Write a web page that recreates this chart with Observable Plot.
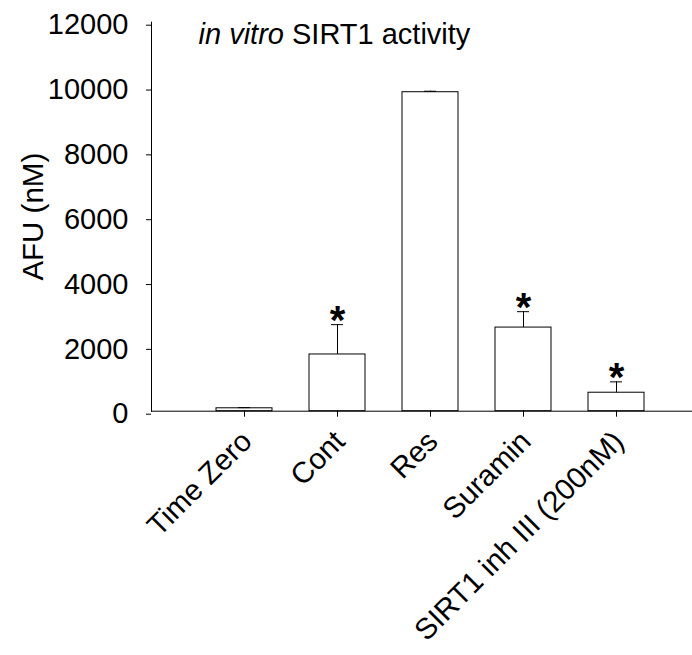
<!DOCTYPE html>
<html>
<head>
<meta charset="utf-8">
<script src="https://cdn.jsdelivr.net/npm/d3@7"></script>
<script src="https://cdn.jsdelivr.net/npm/@observablehq/plot@0.6"></script>
<style>
  html, body { margin: 0; padding: 0; background: #fff; }
  #chart svg { display: block; }
</style>
</head>
<body>
<div id="chart"></div>
<script>
const categories = ["Time Zero", "Cont", "Res", "Suramin", "SIRT1 inh III (200nM)"];
const values = [90, 1750, 9840, 2580, 570];
const errors = [20, 920, 30, 490, 335];
const significant = [false, true, false, true, true];
const yTicks = [0, 2000, 4000, 6000, 8000, 10000, 12000];
const titleItalic = "in vitro";
const titleRest = " SIRT1 activity";
const yLabel = "AFU (nM)";

const data = categories.map((c, i) => ({
  cat: c, value: values[i], err: errors[i], top: values[i] + errors[i], sig: significant[i]
}));

const FONT = "'Liberation Sans', Arial, Helvetica, sans-serif";
const W = 692, H = 655, MT = 21.7, MB = 244.3, ML = 151;
const frameH = H - MT - MB;
const xTickLen = 6;

const chart = Plot.plot({
  width: W,
  height: H,
  marginLeft: ML,
  marginRight: 0,
  marginTop: MT,
  marginBottom: MB,
  style: { fontFamily: FONT, background: "white", color: "black" },
  x: { type: "band", domain: categories, range: [197.5, 662.5], paddingInner: 0.4, paddingOuter: 0.2, axis: null },
  y: { domain: [0, 12000], axis: null },
  marks: [
    Plot.barY(data, { x: "cat", y: "value", fill: "white", stroke: "black", strokeWidth: 1 }),
    Plot.ruleX(data, { x: "cat", y1: "value", y2: "top", stroke: "black", strokeWidth: 1 }),
    Plot.tickY(data, { x: "cat", y: "top", stroke: "black", strokeWidth: 1, insetLeft: 22, insetRight: 22 }),
    Plot.text(data.filter(d => d.sig), { x: "cat", y: "top", text: () => "*", fontSize: 40, fontWeight: "bold", lineAnchor: "bottom", dy: 9, fill: "black" }),
    Plot.ruleY([0], { stroke: "black", strokeWidth: 1 }),
    Plot.frame({ anchor: "left", stroke: "black", strokeWidth: 1 }),
    Plot.axisY({ ticks: yTicks, tickFormat: d => String(d), tickSize: 5, tickPadding: 18, fontSize: 29, dy: 3, label: null }),
    Plot.ruleX(categories, { x: d => d, insetTop: frameH - xTickLen, dy: xTickLen, stroke: "black", strokeWidth: 1 }),
    Plot.text(categories, { x: d => d, frameAnchor: "bottom", rotate: -45, textAnchor: "end", lineAnchor: "bottom", fontSize: 29.5, dx: 9, dy: 32, fill: "black" }),
    Plot.text([yLabel], { frameAnchor: "left", dx: 42 - ML, rotate: -90, textAnchor: "middle", lineAnchor: "bottom", fontSize: 29.5, fill: "black" }),
    Plot.text([titleItalic + titleRest], { frameAnchor: "top-left", dx: 47, dy: 21.3, textAnchor: "start", lineAnchor: "bottom", fontSize: 29, fill: "black" })
  ]
});

// Render title with italic "in vitro" part
d3.select(chart).selectAll("text").each(function() {
  const t = d3.select(this);
  if (t.text() === titleItalic + titleRest) {
    t.text(null);
    t.append("tspan").attr("font-style", "italic").text(titleItalic);
    t.append("tspan").text(titleRest);
  }
});

document.getElementById("chart").appendChild(chart);
</script>
</body>
</html>
